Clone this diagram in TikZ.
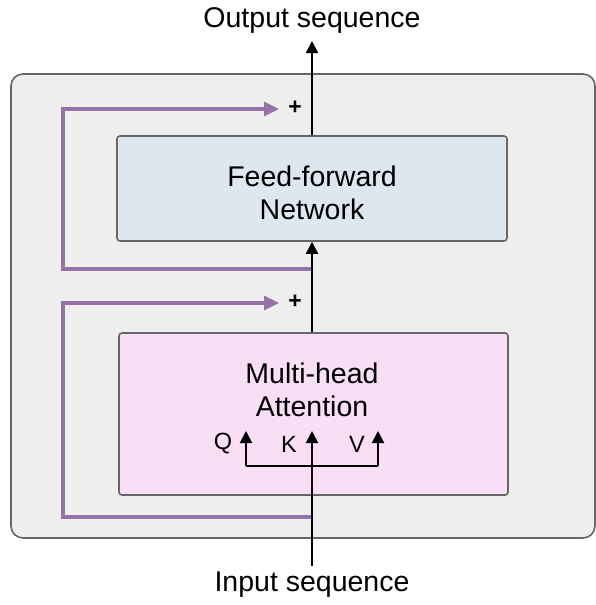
\documentclass[tikz,border=0pt]{standalone}
\usepackage{fontspec}
\setmainfont{Liberation Sans}
\usetikzlibrary{arrows.meta}
\definecolor{outerfill}{HTML}{EEEEEE}
\definecolor{boxline}{HTML}{666666}
\definecolor{fffill}{HTML}{DEE6EF}
\definecolor{mhafill}{HTML}{F8DFF5}
\definecolor{resid}{HTML}{9673A6}
\tikzset{
  blk/.style={draw=boxline, line width=1.6pt, rounded corners=3pt, inner sep=0pt},
  arr/.style={line width=2pt, -{Triangle[length=12pt,width=12pt]}},
  plain/.style={line width=2pt},
  res/.style={draw=resid, line width=3.2pt, -{Triangle[length=15pt,width=14pt]}},
  lbl/.style={font=\fontsize{28.5}{33}\selectfont, inner sep=0pt, align=center},
  small/.style={font=\fontsize{23.5}{28}\selectfont, inner sep=0pt},
  plus/.style={font=\bfseries\fontsize{23}{26}\selectfont, inner sep=0pt}
}
\begin{document}
\begin{tikzpicture}[x=1pt,y=-1pt]
\useasboundingbox (0,0) rectangle (596,605);
\draw[draw=boxline, fill=outerfill, line width=1.6pt, rounded corners=12pt] (11,74) rectangle (595,538);
\node[blk, fill=fffill, minimum width=390pt, minimum height=105pt] (ff) at (312,188.5) {};
\node[lbl] (fft) at (312,193) {Feed-forward\\Network};
\node[blk, fill=mhafill, minimum width=389pt, minimum height=162pt] (mha) at (313.5,414) {};
\node[lbl] (mhat) at (312,390) {Multi-head\\Attention};
\node[lbl] (out) at (312,21) {Output sequence};
\node[lbl] (in) at (312,585) {Input sequence};
\node[plus] (p1) at (295,108) {+};
\node[plus] (p2) at (295,302) {+};
\node[small] (q) at (223,444) {Q};
\node[small] (k) at (289,444) {K};
\node[small] (v) at (357,444) {V};
% coordinates
\coordinate (outtip) at (312,41);
\coordinate (r1s) at (313,269);
\coordinate (r1l) at (63,269);
\coordinate (r1t) at (63,109);
\coordinate (r1e) at (279,109);
\coordinate (r2s) at (313,517);
\coordinate (r2l) at (63,517);
\coordinate (r2t) at (63,303);
\coordinate (r2e) at (279,303);
\coordinate (instart) at (312,566);
\coordinate (ktip) at (312,431);
\coordinate (qb) at (246,466);
\coordinate (vb) at (378,466);
\coordinate (qt) at (246,431);
\coordinate (vt) at (378,431);
% residual
\draw[res] (r1s) -- (r1l) -- (r1t) -- (r1e);
\draw[res] (r2s) -- (r2l) -- (r2t) -- (r2e);
% main flow
\draw[arr] (ff.north -| outtip) -- (outtip);
\draw[arr] (mha.north -| outtip) -- (ff.south -| outtip);
\draw[arr] (instart) -- (ktip);
\draw[plain] (qb) -- (vb);
\draw[arr] (qb) -- (qt);
\draw[arr] (vb) -- (vt);
\end{tikzpicture}
\end{document}
